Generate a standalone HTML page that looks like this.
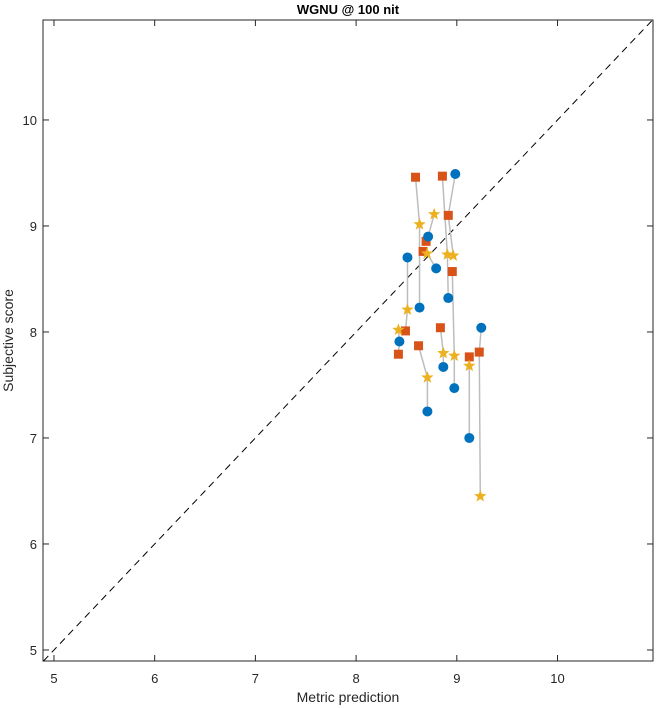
<!DOCTYPE html>
<html><head><meta charset="utf-8"><style>
body{margin:0;background:#fff;}
svg{display:block;font-family:"Liberation Sans",Arial,sans-serif;}
</style></head><body>
<svg id="chart" width="656" height="708"></svg>
<script>
// groups: circle, square, star per condition [x,y]
const circleX=[8.51,8.63,8.915,8.985,8.975,8.715,8.795,8.43,8.708,8.866,9.124,9.243];
const circleY=[8.703,8.23,8.32,9.49,7.47,8.90,8.60,7.91,7.25,7.67,7.00,8.04];
const squareX=[8.49,8.59,8.857,8.915,8.955,8.695,8.665,8.42,8.62,8.837,9.124,9.223];
const squareY=[8.01,9.46,9.47,9.10,8.57,8.855,8.76,7.79,7.87,8.04,7.765,7.81];
const starX=[8.51,8.63,8.906,8.965,8.975,8.775,8.705,8.42,8.708,8.866,9.124,9.233];
const starY=[8.21,9.015,8.73,8.72,7.775,9.11,8.74,8.02,7.57,7.80,7.68,6.45];
const xTicks=[5,6,7,8,9,10];
const yTicks=[5,6,7,8,9,10];

const L=43,R=653,T=20,B=661,xmin=4.891,xmax=10.948,ymin=4.896,ymax=10.943;
const sx=v=>L+(v-xmin)/(xmax-xmin)*(R-L);
const sy=v=>B-(v-ymin)/(ymax-ymin)*(B-T);
const svg=document.getElementById('chart');
const NS='http://www.w3.org/2000/svg';
function mk(t,a,p){const e=document.createElementNS(NS,t);for(const k in a)e.setAttribute(k,a[k]);(p||svg).appendChild(e);return e;}

const frame=mk('rect',{x:L,y:T,width:R-L,height:B-T,fill:'#fff',stroke:'#262626','stroke-width':1});



const lo=Math.max(xmin,ymin),hi=Math.min(xmax,ymax);
const diag=mk('line',{x1:sx(lo),y1:sy(lo),x2:sx(hi),y2:sy(hi),stroke:'#000','stroke-width':1,'stroke-dasharray':'7,5'});



xTicks.forEach(v=>{
  const x=sx(v);
  mk('line',{x1:x,y1:B,x2:x,y2:B-6,stroke:'#262626'});
  mk('line',{x1:x,y1:T,x2:x,y2:T+6,stroke:'#262626'});
  const t=mk('text',{x:x,y:B+22,'text-anchor':'middle','font-size':13,fill:'#262626'});
  t.textContent=v;
  
  
});
yTicks.forEach(v=>{
  const y=sy(v);
  mk('line',{x1:L,y1:y,x2:L+6,y2:y,stroke:'#262626'});
  mk('line',{x1:R,y1:y,x2:R-6,y2:y,stroke:'#262626'});
  const t=mk('text',{x:L-6,y:y+5,'text-anchor':'end','font-size':13,fill:'#262626'});
  t.textContent=v;
  
  
});

for(let i=0;i<circleX.length;i++){
  const pts=[[circleX[i],circleY[i]],[squareX[i],squareY[i]],[starX[i],starY[i]]].sort((a,b)=>b[1]-a[1]);
  const pl=mk('polyline',{points:pts.map(p=>sx(p[0])+','+sy(p[1])).join(' '),fill:'none',stroke:'#bdbdbd','stroke-width':1.5});
  
  
}
function starPath(cx,cy,r){let d='';for(let k=0;k<10;k++){const a=-Math.PI/2+k*Math.PI/5;const rr=k%2?r*0.42:r;d+=(k?'L':'M')+(cx+rr*Math.cos(a)).toFixed(2)+','+(cy+rr*Math.sin(a)).toFixed(2);}return d+'Z';}
for(let i=0;i<circleX.length;i++){
  const s=mk('rect',{x:sx(squareX[i])-4.5,y:sy(squareY[i])-4.5,width:9,height:9,fill:'#d95319'});
  
  
  const st=mk('path',{d:starPath(sx(starX[i]),sy(starY[i]),6.5),fill:'#edb120'});
  
  
  const c=mk('circle',{cx:sx(circleX[i]),cy:sy(circleY[i]),r:5,fill:'#0072bd'});
  
  
}

const title=mk('text',{x:(L+R)/2,y:14,'text-anchor':'middle','font-size':13,'font-weight':'bold',fill:'#000'});
title.textContent='WGNU @ 100 nit';


const xl=mk('text',{x:(L+R)/2,y:702,'text-anchor':'middle','font-size':14,fill:'#262626'});
xl.textContent='Metric prediction';


const yl=mk('text',{x:0,y:0,'text-anchor':'middle','font-size':14,fill:'#262626',transform:'translate(13,'+((T+B)/2)+') rotate(-90)'});
yl.textContent='Subjective score';


</script>
</body></html>
